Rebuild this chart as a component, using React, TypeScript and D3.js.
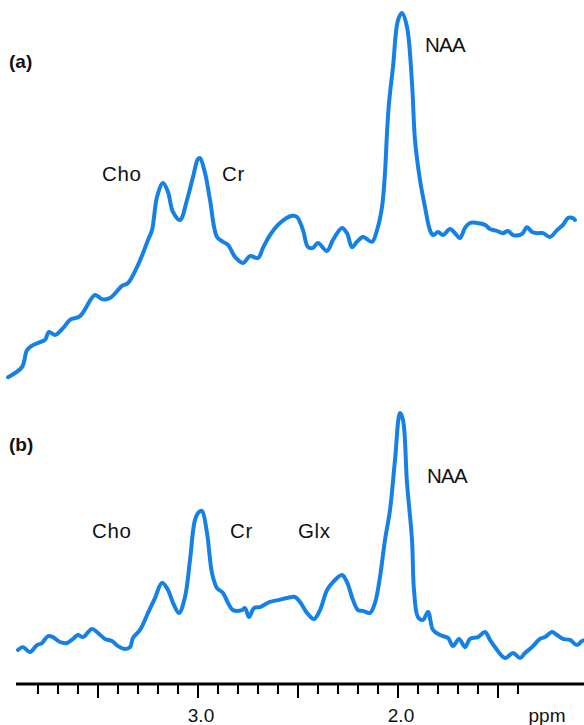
import React, { useEffect, useRef } from 'react';
import * as d3 from 'd3';

// spectrum (a): ppm / intensity (a.u., NAA = 100)
const ppmA = [3.95, 3.88, 3.855, 3.825, 3.79, 3.765, 3.745, 3.715, 3.675, 3.64, 3.59, 3.515, 3.48, 3.44, 3.38, 3.35, 3.305, 3.275, 3.25, 3.23, 3.205, 3.175, 3.15, 3.125, 3.09, 3.055, 3.025, 3.0, 2.99, 2.965, 2.94, 2.905, 2.875, 2.85, 2.815, 2.775, 2.74, 2.7, 2.675, 2.64, 2.59, 2.53, 2.505, 2.475, 2.45, 2.425, 2.4, 2.355, 2.325, 2.28, 2.255, 2.23, 2.205, 2.175, 2.13, 2.105, 2.08, 2.065, 2.055, 2.045, 2.025, 2.0, 1.98, 1.955, 1.93, 1.915, 1.89, 1.865, 1.84, 1.825, 1.8, 1.775, 1.74, 1.715, 1.69, 1.665, 1.64, 1.605, 1.565, 1.54, 1.505, 1.475, 1.45, 1.425, 1.38, 1.355, 1.33, 1.305, 1.275, 1.24, 1.205, 1.175, 1.15, 1.125, 1.115];
const intA = [3.4, 6.1, 10.6, 11.9, 12.7, 13.3, 15.4, 14.6, 16.4, 18.6, 19.6, 25.2, 24.1, 24.4, 27.6, 28.4, 32.6, 36.3, 39.8, 42.4, 51.2, 54.9, 52.5, 47.2, 45.1, 50.4, 56.5, 61.3, 61.5, 57.6, 50.4, 40.6, 39.3, 38.5, 35.3, 33.7, 35.5, 35.0, 37.7, 41.1, 44.3, 46.2, 45.9, 42.4, 37.9, 37.7, 39.0, 36.9, 39.8, 43.0, 41.6, 37.9, 39.3, 40.6, 39.3, 42.4, 48.5, 57.6, 68.2, 76.1, 85.7, 98.1, 100, 96.3, 81.4, 66.3, 55.7, 48.5, 42.4, 41.1, 41.9, 41.1, 42.7, 41.6, 40.3, 43.0, 44.3, 44.3, 43.8, 42.7, 42.2, 41.6, 42.2, 41.1, 41.4, 43.2, 41.9, 41.6, 41.6, 40.6, 42.4, 43.8, 45.6, 45.6, 45.1];

// spectrum (b)
const ppmB = [3.9, 3.875, 3.84, 3.805, 3.78, 3.75, 3.725, 3.69, 3.655, 3.625, 3.6, 3.575, 3.53, 3.5, 3.465, 3.43, 3.4, 3.365, 3.34, 3.325, 3.29, 3.25, 3.215, 3.18, 3.15, 3.125, 3.095, 3.065, 3.04, 3.015, 2.995, 2.98, 2.955, 2.93, 2.905, 2.875, 2.85, 2.825, 2.78, 2.765, 2.745, 2.72, 2.69, 2.64, 2.6, 2.555, 2.515, 2.49, 2.455, 2.42, 2.39, 2.355, 2.325, 2.28, 2.255, 2.225, 2.2, 2.175, 2.14, 2.115, 2.09, 2.065, 2.04, 2.015, 1.99, 1.975, 1.955, 1.93, 1.92, 1.9, 1.875, 1.85, 1.825, 1.79, 1.75, 1.725, 1.695, 1.665, 1.64, 1.6, 1.565, 1.54, 1.515, 1.465, 1.425, 1.39, 1.365, 1.33, 1.29, 1.265, 1.23, 1.205, 1.175, 1.14, 1.105, 1.08, 1.06];
const intB = [7.8, 8.9, 7.0, 9.7, 10.5, 13.2, 12.8, 10.9, 10.5, 12.1, 13.6, 12.8, 16.0, 14.4, 12.1, 11.3, 9.3, 8.2, 8.9, 12.5, 15.6, 22.2, 28.0, 33.9, 31.1, 26.1, 22.2, 28.4, 42.8, 58.4, 61.5, 61.9, 53.3, 37.7, 31.9, 30.0, 26.1, 23.3, 23.3, 24.1, 20.6, 24.1, 24.5, 26.5, 27.2, 28.0, 28.4, 26.5, 22.2, 19.8, 23.3, 31.1, 34.2, 37.0, 34.2, 27.2, 23.3, 23.0, 22.2, 26.1, 36.2, 50.6, 62.3, 81.7, 100, 97.3, 72.8, 50.6, 31.1, 20.6, 19.5, 22.6, 15.6, 13.6, 12.5, 9.3, 12.1, 8.9, 12.1, 12.8, 14.8, 11.7, 8.9, 4.7, 6.6, 4.7, 6.6, 8.9, 12.1, 12.8, 14.8, 13.6, 12.1, 11.7, 9.7, 11.3, 11.7];

// peak labels (ppm of the label's left edge)
const labelsA = [
  { text: 'Cho', ppm: 3.48 },
  { text: 'Cr', ppm: 2.88 },
  { text: 'NAA', ppm: 1.865 },
];
const labelsB = [
  { text: 'Cho', ppm: 3.53 },
  { text: 'Cr', ppm: 2.84 },
  { text: 'Glx', ppm: 2.5 },
  { text: 'NAA', ppm: 1.855 },
];

const tickLabels = [3.0, 2.0];
const axisEnds = [3.91, 1.07];

const App = () => {
  const ref = useRef(null);

  useEffect(() => {
    const svg = d3.select(ref.current);
    svg.selectAll('*').remove();

    const font = '"Liberation Sans", Arial, sans-serif';
    const blue = '#1681e4';

    const x = d3.scaleLinear().domain([3.0, 2.0]).range([198, 398]);
    const yA = d3.scaleLinear().domain([0, 100]).range([390, 13]);
    const yB = d3.scaleLinear().domain([0, 100]).range([670, 413]);

    const drawTrace = (ppm, vals, y) => {
      const line = d3
        .line()
        .x((d) => x(d[0]))
        .y((d) => y(d[1]))
        .curve(d3.curveCatmullRom.alpha(0.5));
      svg
        .append('path')
        .datum(ppm.map((p, i) => [p, vals[i]]))
        .attr('d', line)
        .attr('fill', 'none')
        .attr('stroke', blue)
        .attr('stroke-width', 4)
        .attr('stroke-linejoin', 'round')
        .attr('stroke-linecap', 'round');
    };

    drawTrace(ppmA, intA, yA);
    drawTrace(ppmB, intB, yB);

    const addLabels = (labels, baseY) => {
      svg
        .selectAll(null)
        .data(labels)
        .enter()
        .append('text')
        .attr('x', (d) => x(d.ppm))
        .attr('y', baseY)
        .attr('font-family', font)
        .attr('font-size', 20.5)
        .attr('letter-spacing', (d) => (d.text === 'NAA' ? -0.8 : 0.6))
        .attr('fill', '#111')
        .text((d) => d.text);
    };
    addLabels(labelsA.slice(0, 2), 181);
    addLabels(labelsA.slice(2), 52);
    addLabels(labelsB.slice(0, 3), 538);
    addLabels(labelsB.slice(3), 483);

    svg.append('text').attr('x', 9).attr('y', 68).attr('font-family', font)
      .attr('font-size', 19).attr('font-weight', 'bold').attr('fill', '#111').text('(a)');
    svg.append('text').attr('x', 9).attr('y', 451).attr('font-family', font)
      .attr('font-size', 19).attr('font-weight', 'bold').attr('fill', '#111').text('(b)');

    // ppm axis
    const axisY = 684;
    svg
      .append('line')
      .attr('x1', x(axisEnds[0]))
      .attr('x2', x(axisEnds[1]))
      .attr('y1', axisY)
      .attr('y2', axisY)
      .attr('stroke', '#000')
      .attr('stroke-width', 3);

    const ticks = d3.range(14, 39).map((d) => d / 10);
    svg
      .selectAll('.tick')
      .data(ticks)
      .enter()
      .append('line')
      .attr('class', 'tick')
      .attr('x1', (d) => x(d))
      .attr('x2', (d) => x(d))
      .attr('y1', axisY)
      .attr('y2', (d) => (Math.round(d * 10) % 5 === 0 ? axisY + 14 : axisY + 10))
      .attr('stroke', '#000')
      .attr('stroke-width', 2);

    svg
      .selectAll('.tlabel')
      .data(tickLabels)
      .enter()
      .append('text')
      .attr('class', 'tlabel')
      .attr('x', (d) => x(d) + 3)
      .attr('y', 722)
      .attr('text-anchor', 'middle')
      .attr('font-family', font)
      .attr('font-size', 19)
      .attr('fill', '#111')
      .text((d) => d.toFixed(1));

    svg.append('text').attr('x', 547).attr('y', 722).attr('text-anchor', 'middle')
      .attr('font-family', font).attr('font-size', 19).attr('fill', '#111').text('ppm');
  }, []);

  return (
    <svg
      ref={ref}
      width={584}
      height={725}
      style={{ position: 'absolute', left: 0, top: 0, background: '#fff' }}
    />
  );
};

export default App;
